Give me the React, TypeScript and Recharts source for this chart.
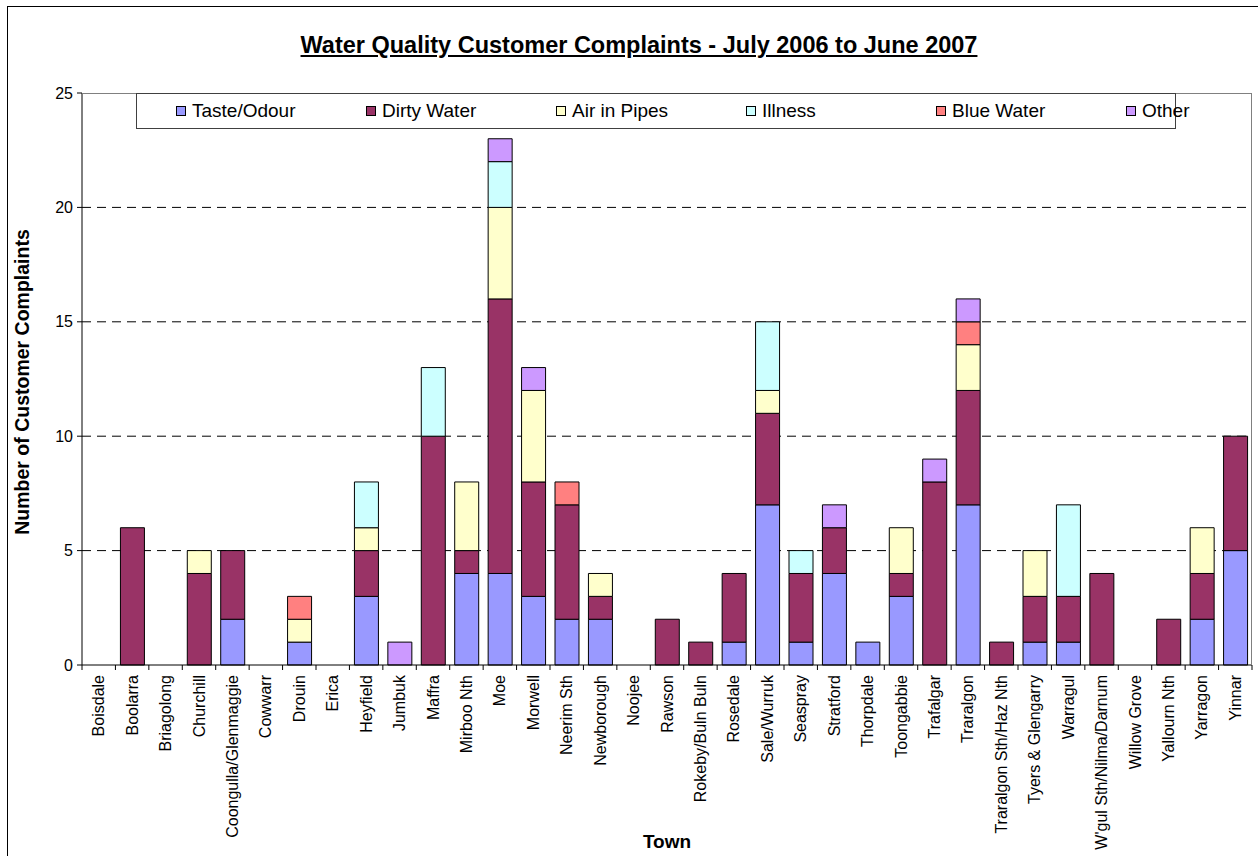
import React from 'react';
import { BarChart, Bar, XAxis, YAxis, CartesianGrid } from 'recharts';

// towns along the x axis
const towns = [
    'Boisdale', 'Boolarra', 'Briagolong', 'Churchill', 'Coongulla/Glenmaggie', 'Cowwarr',
    'Drouin', 'Erica', 'Heyfield', 'Jumbuk', 'Maffra', 'Mirboo Nth', 'Moe', 'Morwell',
    'Neerim Sth', 'Newborough', 'Noojee', 'Rawson', 'Rokeby/Buln Buln', 'Rosedale',
    'Sale/Wurruk', 'Seaspray', 'Stratford', 'Thorpdale', 'Toongabbie', 'Trafalgar',
    'Traralgon', 'Traralgon Sth/Haz Nth', 'Tyers & Glengarry', 'Warragul',
    "W'gul Sth/Nilma/Darnum", 'Willow Grove', 'Yallourn Nth', 'Yarragon', 'Yinnar',
];

// complaints per town, one array per complaint type
const tasteOdour = [0, 0, 0, 0, 2, 0, 1, 0, 3, 0, 0, 4, 4, 3, 2, 2, 0, 0, 0, 1, 7, 1, 4, 1, 3, 0, 7, 0, 1, 1, 0, 0, 0, 2, 5];
const dirtyWater = [0, 6, 0, 4, 3, 0, 0, 0, 2, 0, 10, 1, 12, 5, 5, 1, 0, 2, 1, 3, 4, 3, 2, 0, 1, 8, 5, 1, 2, 2, 4, 0, 2, 2, 5];
const airInPipes = [0, 0, 0, 1, 0, 0, 1, 0, 1, 0, 0, 3, 4, 4, 0, 1, 0, 0, 0, 0, 1, 0, 0, 0, 2, 0, 2, 0, 2, 0, 0, 0, 0, 2, 0];
const illness = [0, 0, 0, 0, 0, 0, 0, 0, 2, 0, 3, 0, 2, 0, 0, 0, 0, 0, 0, 0, 3, 1, 0, 0, 0, 0, 0, 0, 0, 4, 0, 0, 0, 0, 0];
const blueWater = [0, 0, 0, 0, 0, 0, 1, 0, 0, 0, 0, 0, 0, 0, 1, 0, 0, 0, 0, 0, 0, 0, 0, 0, 0, 0, 1, 0, 0, 0, 0, 0, 0, 0, 0];
const other = [0, 0, 0, 0, 0, 0, 0, 0, 0, 1, 0, 0, 1, 1, 0, 0, 0, 0, 0, 0, 0, 0, 1, 0, 0, 1, 1, 0, 0, 0, 0, 0, 0, 0, 0];

const yTicks = [0, 5, 10, 15, 20, 25];

const series = [
    { key: 'taste', name: 'Taste/Odour', values: tasteOdour, color: '#9999FF' },
    { key: 'dirty', name: 'Dirty Water', values: dirtyWater, color: '#993366' },
    { key: 'air', name: 'Air in Pipes', values: airInPipes, color: '#FFFFCC' },
    { key: 'illness', name: 'Illness', values: illness, color: '#CCFFFF' },
    { key: 'blue', name: 'Blue Water', values: blueWater, color: '#FF8080' },
    { key: 'other', name: 'Other', values: other, color: '#CC99FF' },
];

const data = towns.map((town, i) => {
    const row: Record<string, string | number> = { town };
    series.forEach((s) => {
        row[s.key] = s.values[i];
    });
    return row;
});

const W = 1258;
const H = 856;
const PLOT_LEFT = 82;
const PLOT_RIGHT = 1252;
const PLOT_TOP = 93;
const PLOT_BOTTOM = 665;
const BAND = (PLOT_RIGHT - PLOT_LEFT) / towns.length;
const FONT = '"Liberation Sans", Arial, sans-serif';

function TownTick(props: any) {
    const { x, y, payload, index } = props;
    const half = BAND / 2;
    const ty = y + 10;
    return (
        <g>
            <line x1={x - half} y1={y} x2={x - half} y2={y + 5} stroke="#000" />
            {index === towns.length - 1 && (
                <line x1={x + half} y1={y} x2={x + half} y2={y + 5} stroke="#000" />
            )}
            <text
                x={x}
                y={ty}
                transform={`rotate(-90, ${x}, ${ty})`}
                textAnchor="end"
                dominantBaseline="central"
                fontSize={16}
                fontFamily={FONT}
                fill="#000"
            >
                {payload.value}
            </text>
        </g>
    );
}

export default function App() {
    return (
        <div
            style={{
                position: 'absolute',
                left: 0,
                top: 0,
                width: W,
                height: H,
                overflow: 'hidden',
                background: '#fff',
                fontFamily: FONT,
            }}
        >
            {/* outer chart border, runs off the right and bottom edges */}
            <div
                style={{
                    position: 'absolute',
                    left: 7,
                    top: 6,
                    width: W + 40,
                    height: H + 40,
                    border: '1.5px solid #000',
                }}
            />

            <div
                style={{
                    position: 'absolute',
                    left: 10,
                    top: 32,
                    width: W,
                    textAlign: 'center',
                    fontSize: 23.5,
                    fontWeight: 'bold',
                    textDecoration: 'underline',
                }}
            >
                Water Quality Customer Complaints - July 2006 to June 2007
            </div>

            <div style={{ position: 'absolute', left: 0, top: 0 }}>
                <BarChart
                    width={W}
                    height={H}
                    data={data}
                    margin={{ top: PLOT_TOP, right: W - PLOT_RIGHT, left: 0, bottom: 0 }}
                    barSize={24}
                >
                    <CartesianGrid
                        vertical={false}
                        stroke="#000"
                        strokeDasharray="9 6"
                        horizontalValues={[5, 10, 15, 20]}
                    />
                    <XAxis
                        dataKey="town"
                        interval={0}
                        height={H - PLOT_BOTTOM}
                        tickLine={false}
                        tickSize={0}
                        tickMargin={0}
                        axisLine={{ stroke: '#000' }}
                        tick={<TownTick />}
                    />
                    <YAxis
                        width={PLOT_LEFT}
                        domain={[0, 25]}
                        ticks={yTicks}
                        interval={0}
                        tickSize={5}
                        tickMargin={4}
                        axisLine={{ stroke: '#000' }}
                        tickLine={{ stroke: '#000' }}
                        tick={{ fontSize: 16, fill: '#000', fontFamily: FONT }}
                    />
                    {series.map((s) => (
                        <Bar
                            key={s.key}
                            dataKey={s.key}
                            name={s.name}
                            stackId="a"
                            fill={s.color}
                            stroke="#000"
                            strokeWidth={1}
                            isAnimationActive={false}
                        />
                    ))}
                </BarChart>
            </div>

            {/* grey plot frame, top and right */}
            <div
                style={{
                    position: 'absolute',
                    left: PLOT_LEFT,
                    top: PLOT_TOP,
                    width: PLOT_RIGHT - PLOT_LEFT,
                    height: PLOT_BOTTOM - PLOT_TOP,
                    borderTop: '1px solid #808080',
                    borderRight: '1px solid #808080',
                    boxSizing: 'border-box',
                    pointerEvents: 'none',
                }}
            />

            {/* legend */}
            <div
                style={{
                    position: 'absolute',
                    left: 136,
                    top: PLOT_TOP,
                    width: 1040,
                    height: 36,
                    border: '1px solid #404040',
                    background: '#fff',
                    boxSizing: 'border-box',
                }}
            >
                {series.map((s, i) => (
                    <div
                        key={s.key}
                        style={{
                            position: 'absolute',
                            left: 39 + i * 190,
                            top: 0,
                            height: 34,
                            display: 'flex',
                            alignItems: 'center',
                            fontSize: 19,
                            whiteSpace: 'nowrap',
                        }}
                    >
                        <span
                            style={{
                                display: 'inline-block',
                                width: 8,
                                height: 8,
                                background: s.color,
                                border: '1px solid #000',
                                marginRight: 6,
                            }}
                        />
                        {s.name}
                    </div>
                ))}
            </div>

            <div
                style={{
                    position: 'absolute',
                    left: 22 - 200,
                    top: 382 - 12,
                    width: 400,
                    height: 24,
                    lineHeight: '24px',
                    textAlign: 'center',
                    fontSize: 19.5,
                    fontWeight: 'bold',
                    transform: 'rotate(-90deg)',
                }}
            >
                Number of Customer Complaints
            </div>

            <div
                style={{
                    position: 'absolute',
                    left: 567,
                    top: 831,
                    width: 200,
                    textAlign: 'center',
                    fontSize: 19,
                    fontWeight: 'bold',
                }}
            >
                Town
            </div>
        </div>
    );
}
